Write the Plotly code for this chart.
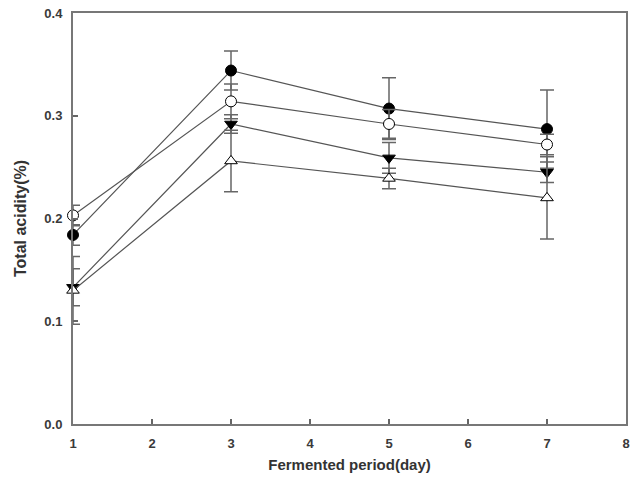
import plotly.graph_objects as go

days = [1, 3, 5, 7]

filled_circle = [0.184, 0.344, 0.307, 0.287]
filled_circle_err = [0.010, 0.019, 0.030, 0.038]

open_circle = [0.203, 0.314, 0.292, 0.272]
open_circle_err = [0.010, 0.017, 0.014, 0.010]

filled_tri = [0.133, 0.292, 0.259, 0.245]
filled_tri_err = [0.018, 0.009, 0.015, 0.010]

open_tri = [0.130, 0.256, 0.239, 0.220]
open_tri_err = [0.033, 0.030, 0.010, 0.040]

x_ticks = [1, 2, 3, 4, 5, 6, 7, 8]
y_ticks = [0.0, 0.1, 0.2, 0.3, 0.4]

series = [
    (filled_circle, filled_circle_err, "circle", "black"),
    (open_circle, open_circle_err, "circle", "white"),
    (filled_tri, filled_tri_err, "triangle-down", "black"),
    (open_tri, open_tri_err, "triangle-up", "white"),
]

fig = go.Figure()
for vals, errs, sym, fill in series:
    fig.add_trace(go.Scatter(
        x=days, y=vals,
        mode="lines+markers",
        cliponaxis=False,
        line=dict(color="#555555", width=1.2),
        marker=dict(symbol=sym, size=11, color=fill,
                    line=dict(color="black", width=1)),
        error_y=dict(type="data", array=errs, visible=True,
                     color="#666666", thickness=1.5, width=7),
        showlegend=False,
    ))

axis_font = dict(family="Liberation Sans, Arial, sans-serif", size=13, color="#3a3a3a")

fig.update_layout(
    width=636, height=496,
    margin=dict(l=73, r=6, t=10, b=72),
    paper_bgcolor="white", plot_bgcolor="white",
    font=axis_font,
)
fig.update_xaxes(
    range=[1, 8], tickvals=x_ticks, ticktext=[f"<b>{v}</b>" for v in x_ticks],
    ticks="inside", ticklen=5, tickcolor="#666666", tickwidth=1.5,
    ticklabelstandoff=6,
    showline=True, linecolor="#777777", linewidth=2, mirror=True,
    showgrid=False, zeroline=False,
    title=dict(text="<b>Fermented period(day)</b>", font=dict(size=15, color="#333333"), standoff=10),
)
fig.update_yaxes(
    range=[0, 0.4], tickvals=y_ticks, ticktext=[f"<b>{v:.1f}</b>" for v in y_ticks],
    ticks="inside", ticklen=5, tickcolor="#666666", tickwidth=1.5,
    ticklabelstandoff=6,
    showline=True, linecolor="#777777", linewidth=2, mirror=True,
    showgrid=False, zeroline=False,
    title=dict(text="<b>Total acidity(%)</b>", font=dict(size=16, color="#333333"), standoff=14),
)

fig.write_html("out.html")
